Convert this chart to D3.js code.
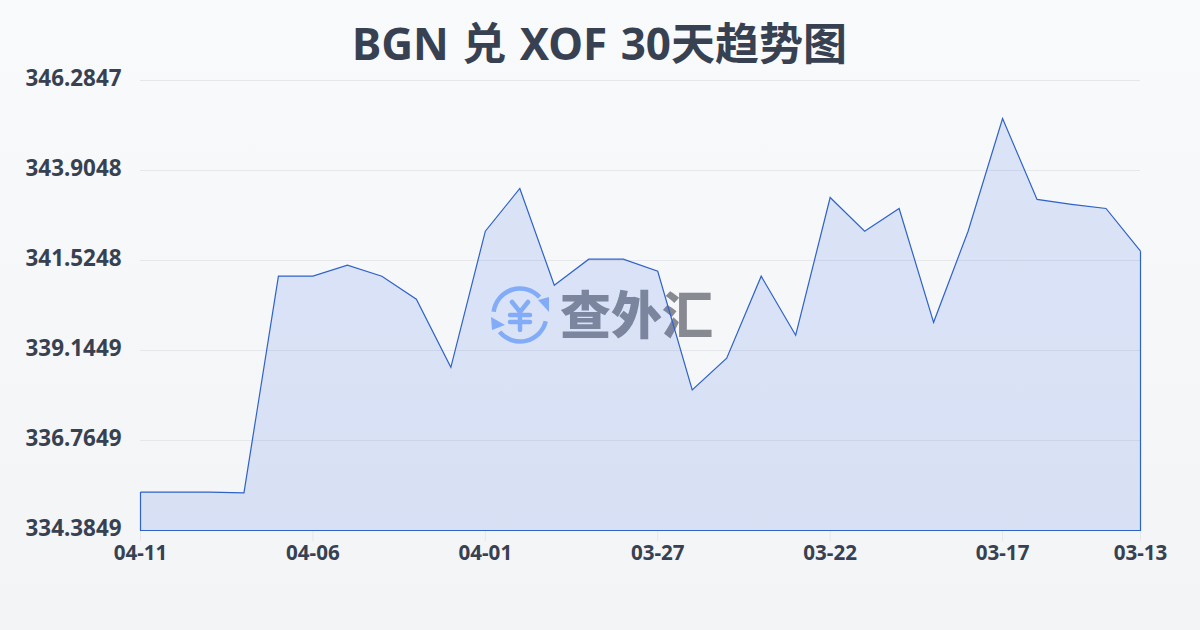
<!DOCTYPE html>
<html><head><meta charset="utf-8">
<script src="https://cdnjs.cloudflare.com/ajax/libs/d3/7.8.5/d3.min.js"></script>
<style>html,body{margin:0;padding:0;width:1200px;height:630px;overflow:hidden}svg{display:block}</style>
</head><body><svg id="c" width="1200" height="630"></svg>
<script>
const titleText = "BGN 兑 XOF 30天趋势图";
const dates = ["04-11","04-10","04-09","04-08","04-07","04-06","04-05","04-04","04-03","04-02","04-01","03-31","03-30","03-29","03-28","03-27","03-26","03-25","03-24","03-23","03-22","03-21","03-20","03-19","03-18","03-17","03-16","03-15","03-14","03-13"];
const rates = [335.40,335.40,335.40,335.38,341.11,341.11,341.40,341.11,340.50,338.70,342.30,343.43,340.87,341.56,341.56,341.24,338.10,338.94,341.11,339.55,343.19,342.30,342.90,339.89,342.30,345.28,343.14,343.01,342.90,341.77];
const yTicks = [334.3849,336.7649,339.1449,341.5248,343.9048,346.2847];
const xTicks = ["04-11","04-06","04-01","03-27","03-22","03-17","03-13"];
const font = "'Noto Sans','Noto Sans CJK SC',sans-serif";
const ink = "#374151";

const svg = d3.select("#c");
const defs = svg.append("defs");
const bg = defs.append("linearGradient").attr("id","bg").attr("x1",0).attr("y1",0).attr("x2",0).attr("y2",1);
bg.append("stop").attr("offset",0).attr("stop-color","#f8fafc");
bg.append("stop").attr("offset",1).attr("stop-color","#f3f4f6");
svg.append("rect").attr("width",1200).attr("height",630).attr("fill","url(#bg)");

const x = d3.scalePoint().domain(dates).range([140.5,1140.5]);
const y = d3.scaleLinear().domain([yTicks[0],yTicks[yTicks.length-1]]).range([530.5,80.5]);

// title
svg.append("text").attr("x",599.5).attr("y",60).attr("text-anchor","middle")
  .attr("font-family",font).attr("font-size",44).attr("font-weight",700).attr("word-spacing",2).attr("fill","#374151").text(titleText);

// y grid
svg.append("g").selectAll("line").data(yTicks.slice(1)).join("line")
  .attr("x1",140).attr("x2",1140).attr("y1",d=>Math.floor(y(d))+.5).attr("y2",d=>Math.floor(y(d))+.5)
  .attr("stroke","#e5e7eb").attr("stroke-width",1);

// y labels
svg.append("g").selectAll("text").data(yTicks).join("text")
  .attr("x",121.5).attr("y",d=>y(d)-2).attr("dy","0.35em").attr("text-anchor","end")
  .attr("font-family",font).attr("font-size",22.4).attr("font-weight",700).attr("fill",ink)
  .text(d=>d.toFixed(4));

// x ticks + labels
const gx = svg.append("g");
gx.selectAll("line").data(xTicks).join("line")
  .attr("x1",d=>x(d)).attr("x2",d=>x(d)).attr("y1",530.5).attr("y2",541)
  .attr("stroke","#e5e7eb");
gx.selectAll("text").data(xTicks).join("text")
  .attr("x",d=>x(d)).attr("y",560).attr("text-anchor","middle")
  .attr("font-family",font).attr("font-size",20.6).attr("font-weight",700).attr("fill",ink).text(d=>d);

// watermark
const wm = svg.append("g");
const blue = "#8fb8fb";
const ic = wm.append("g").attr("transform","translate(520,315)").attr("fill","none").attr("stroke",blue).attr("stroke-linecap","round");
const arc = d3.arc().innerRadius(26.5).outerRadius(26.5);
ic.append("path").attr("stroke-width",4.5).attr("d",arc({startAngle:-1.45,endAngle:0.83}));
ic.append("path").attr("stroke-width",4.5).attr("d",arc({startAngle:1.81,endAngle:4.02}));
ic.append("path").attr("fill",blue).attr("stroke","none").attr("d",d3.line()([[18,-15],[29,-18],[29,-3]]));
ic.append("path").attr("fill",blue).attr("stroke","none").attr("d",d3.line()([[-29,2],[-15,10],[-28,15]]));
ic.append("path").attr("stroke-width",4.5).attr("d","M-8,-13L0,-3L8,-13M-10,0H10M-10,7H10M0,-3V15");
wm.append("text").attr("x",560).attr("y",334).attr("font-family","'Noto Sans CJK SC'").attr("font-size",51).attr("font-weight",900)
  .attr("fill","#7d8088").attr("fill-opacity",.92).text("查外汇");

// area + line
const area = d3.area().x((d,i)=>x(dates[i])).y0(y(yTicks[0])).y1(d=>y(d));
svg.append("path").datum(rates).attr("d",area).attr("fill","#3b6ae4").attr("fill-opacity",.15);
svg.append("path").datum(rates).attr("d",d3.line().x((d,i)=>x(dates[i])).y(d=>y(d))).attr("fill","none").attr("stroke","#2f62c9").attr("stroke-width",1.2);
svg.append("path").attr("d",d3.line()([[x(dates[0]),y(rates[0])],[x(dates[0]),y(yTicks[0])],[x(dates[29]),y(yTicks[0])],[x(dates[29]),y(rates[29])]]))
  .attr("fill","none").attr("stroke","#2f62c9").attr("stroke-width",1.2);
</script></body></html>
